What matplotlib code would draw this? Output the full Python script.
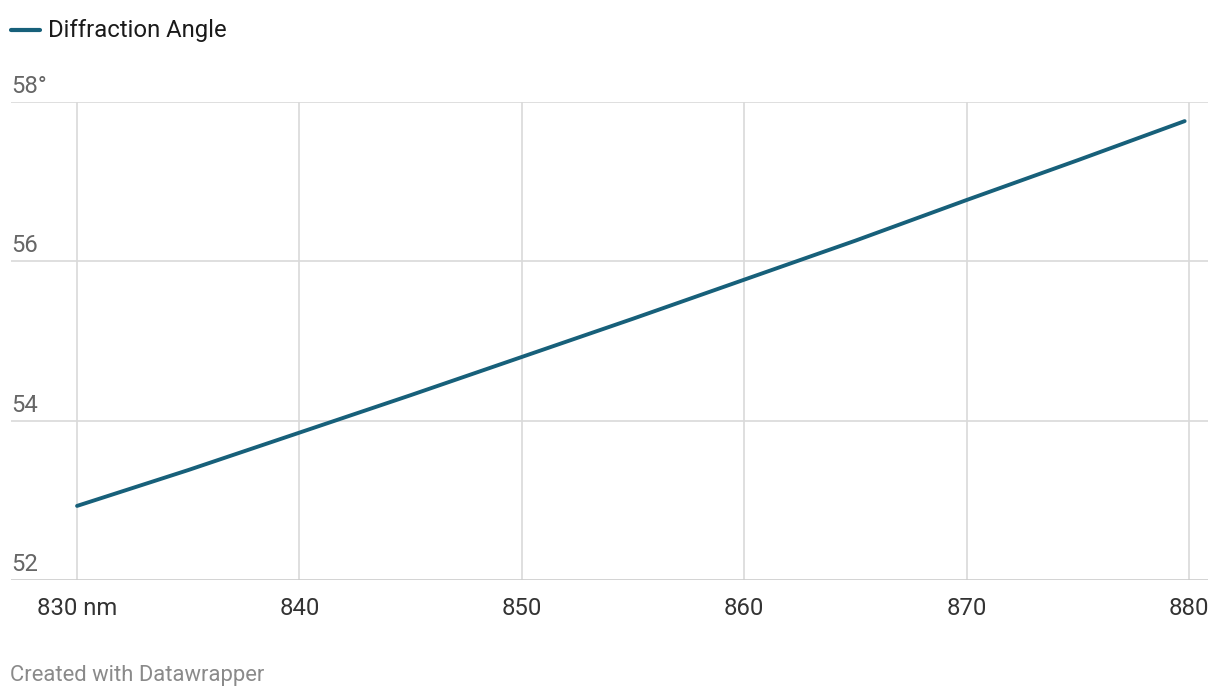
import matplotlib
matplotlib.use("Agg")
import matplotlib.pyplot as plt
from matplotlib.lines import Line2D
import matplotlib.transforms as mtransforms

plt.rcParams["font.family"] = ["Roboto", "DejaVu Sans"]

# data: diffraction angle (deg) vs wavelength (nm)
wavelength = [830, 835, 840, 845, 850, 855, 860, 865, 870, 875, 879.8]
angle      = [52.93, 53.38, 53.85, 54.32, 54.80, 55.28, 55.77, 56.26, 56.77, 57.27, 57.76]

x_ticks  = [830, 840, 850, 860, 870, 880]
x_labels = ["830 nm", "840", "850", "860", "870", "880"]
y_ticks  = [52, 54, 56, 58]
y_labels = ["52", "54", "56", "58°"]

LINE  = "#17607a"
GRID  = "#d9d9d9"
TXT   = "#333333"
YTXT  = "#666666"
FOOT  = "#8a8a8a"
FS    = 17.2

W, H = 1220, 698
fig = plt.figure(figsize=(W / 100, H / 100), dpi=100, facecolor="white")
ax = fig.add_axes([11 / W, 118 / H, (1208 - 11) / W, (580 - 102) / H])
ax.set_xlim(827.03, 880.85)
ax.set_ylim(52, 58)
for s in ax.spines.values():
    s.set_visible(False)

ax.set_yticks([])
ax.set_xticks(x_ticks)
ax.set_xticklabels(x_labels, fontsize=FS, color=TXT)
ax.tick_params(axis="x", length=0, pad=12)

for xv in x_ticks:
    ax.axvline(xv, color=GRID, lw=1.2, zorder=1)
for yv in y_ticks:
    ax.axhline(yv, color="#cccccc" if yv == 52 else GRID, lw=1.2, zorder=1)

trans = mtransforms.blended_transform_factory(ax.transAxes, ax.transData)
for yv, lab in zip(y_ticks, y_labels):
    ax.annotate(lab, (0, yv), xycoords=trans, xytext=(0.5, 6.5),
                textcoords="offset points", ha="left", va="baseline",
                fontsize=FS, color=YTXT, annotation_clip=False)

ax.plot(wavelength, angle, color=LINE, lw=2.8, solid_capstyle="round", zorder=3)

# legend
fig.add_artist(Line2D([11 / W, 40 / W], [1 - 30 / H, 1 - 30 / H], color=LINE,
                      lw=3, solid_capstyle="round"))
fig.text(48 / W, 1 - 30 / H, "Diffraction Angle", fontsize=FS, color="#1a1a1a",
         ha="left", va="center")

fig.text(10 / W, 1 - 675 / H, "Created with Datawrapper", fontsize=15.8,
         color=FOOT, ha="left", va="center")

fig.savefig("out.png", dpi=100, facecolor="white")
